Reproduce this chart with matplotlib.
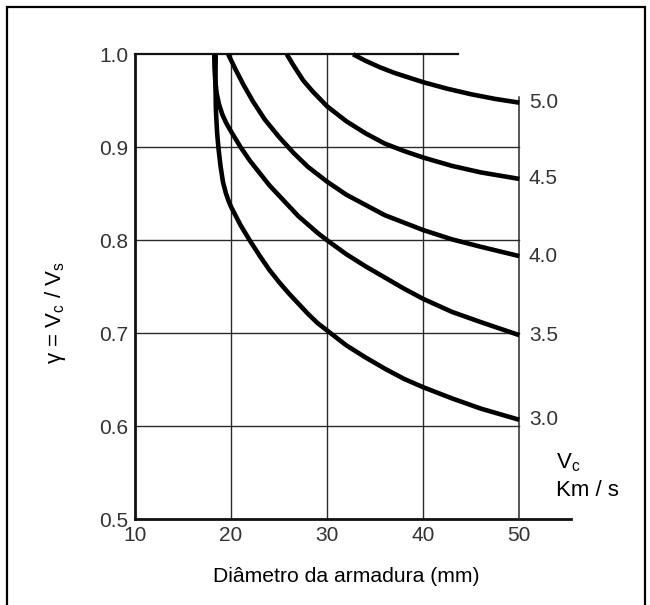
import matplotlib
matplotlib.use("Agg")
import matplotlib.pyplot as plt
from matplotlib.patches import Rectangle

plt.rcParams['font.family'] = ['Liberation Sans', 'DejaVu Sans']
plt.rcParams['mathtext.fontset'] = 'custom'
plt.rcParams['mathtext.rm'] = 'Liberation Sans'

# axis ticks
x_ticks = [10, 20, 30, 40, 50]
y_ticks = [0.5, 0.6, 0.7, 0.8, 0.9, 1.0]

# curves, one per Vc (km/s)
vc_labels = ["3.0", "3.5", "4.0", "4.5", "5.0"]

curve_30_x = [18.4, 18.37, 18.42, 18.55, 18.7, 18.9, 19.15, 19.45, 19.75, 20.0, 21.0, 22.0,
              23.0, 24.0, 25.0, 26.0, 27.0, 28.0, 29.0, 30.0, 32.0, 34.0, 36.0, 38.0,
              40.0, 43.0, 46.0, 50.0]
curve_30_y = [1.0, 0.97, 0.94, 0.915, 0.898, 0.88, 0.863, 0.851, 0.842, 0.836, 0.816, 0.799,
              0.783, 0.768, 0.755, 0.743, 0.732, 0.721, 0.711, 0.703, 0.687, 0.674, 0.662, 0.651,
              0.642, 0.630, 0.619, 0.607]

curve_35_x = [18.25, 18.28, 18.35, 18.5, 18.75, 19.1, 19.5, 20.0, 21.0, 22.0, 23.0, 24.0,
              25.0, 26.0, 27.0, 28.0, 29.0, 30.0, 32.0, 34.0, 36.0, 38.0, 40.0, 43.0,
              46.0, 50.0]
curve_35_y = [1.0, 0.985, 0.972, 0.958, 0.946, 0.935, 0.926, 0.917, 0.900, 0.885, 0.872, 0.859,
              0.848, 0.837, 0.826, 0.817, 0.808, 0.800, 0.785, 0.772, 0.760, 0.748, 0.737, 0.723,
              0.712, 0.698]

curve_40_x = [19.7, 20.5, 21.3, 22.3, 23.5, 25.0, 26.5, 28.0, 30.0, 32.0, 34.0, 36.0,
              38.0, 40.0, 43.0, 46.0, 50.0]
curve_40_y = [1.0, 0.983, 0.967, 0.949, 0.930, 0.911, 0.894, 0.879, 0.863, 0.849, 0.838, 0.827,
              0.819, 0.811, 0.801, 0.793, 0.783]

curve_45_x = [25.8, 26.5, 27.5, 28.5, 30.0, 32.0, 34.0, 36.0, 38.0, 40.0, 43.0, 46.0, 50.0]
curve_45_y = [1.0, 0.988, 0.972, 0.960, 0.944, 0.928, 0.915, 0.904, 0.896, 0.889, 0.880, 0.873, 0.866]

curve_50_x = [32.7, 34.0, 35.5, 37.0, 38.5, 40.0, 42.5, 45.0, 47.5, 50.0]
curve_50_y = [1.0, 0.993, 0.986, 0.980, 0.975, 0.970, 0.963, 0.957, 0.952, 0.948]

curves = [(curve_30_x, curve_30_y), (curve_35_x, curve_35_y), (curve_40_x, curve_40_y),
          (curve_45_x, curve_45_y), (curve_50_x, curve_50_y)]

W, H = 650, 605
fig = plt.figure(figsize=(W / 100, H / 100), dpi=100)
# axes box: x 10..50 -> px 135..519, y 0.5..1.0 -> px 519..54
ax = fig.add_axes([135 / W, 1 - 519.3 / H, 384.3 / W, 465 / H])
ax.set_xlim(10, 50)
ax.set_ylim(0.5, 1.0)
for s in ax.spines.values():
    s.set_visible(False)

grid_c = '#2a2a2a'
# grid lines
for xv in x_ticks[1:-1]:
    ax.plot([xv, xv], [0.5, 1.0], color=grid_c, lw=1.0, clip_on=False)
for yv in y_ticks[1:-1]:
    ax.plot([10, 50], [yv, yv], color=grid_c, lw=1.0, clip_on=False)
# frame pieces
ax.plot([10, 10], [0.5, 1.0], color='#111111', lw=2.0, clip_on=False)
ax.plot([10, 55.4], [0.5, 0.5], color='#111111', lw=2.0, clip_on=False)
ax.plot([10, 43.6], [1.0, 1.0], color='#111111', lw=1.6, clip_on=False)
ax.plot([50, 50], [0.5, 0.954], color=grid_c, lw=1.1, clip_on=False)

for (cx, cy), lab in zip(curves, vc_labels):
    ax.plot(cx, cy, color='black', lw=3.3, solid_capstyle='butt',
            solid_joinstyle='round', clip_on=False)
    ax.text(51.0, cy[-1], lab, fontsize=15, color='#333333', ha='left', va='center')

ax.set_xticks(x_ticks)
ax.set_xticklabels([str(v) for v in x_ticks])
ax.set_yticks(y_ticks)
ax.set_yticklabels(["%.1f" % v for v in y_ticks])
ax.tick_params(length=0, labelsize=15, labelcolor='#333333')
ax.tick_params(axis='x', pad=5)
ax.tick_params(axis='y', pad=5)

ax.set_xlabel("Diâmetro da armadura (mm)", fontsize=15.2, va='center')
ax.xaxis.set_label_coords(0.549, -0.122)
ax.set_ylabel(r"γ = V$_\mathrm{c}$ / V$_\mathrm{s}$", fontsize=16, va='center')
ax.yaxis.set_label_coords(-0.206, 0.444)

ax.text(53.8, 0.561, r"V$_\mathrm{c}$", fontsize=16, ha='left', va='center', clip_on=False)
ax.text(53.8, 0.531, "Km / s", fontsize=16, ha='left', va='center', clip_on=False)

# outer frame of the picture
fig.patches.append(Rectangle((7.3 / W, -0.02), (645 - 7.3) / W, 1.02 - 6.7 / H,
                             transform=fig.transFigure, fill=False,
                             edgecolor='black', lw=1.6))

fig.savefig("out.png", dpi=100)
